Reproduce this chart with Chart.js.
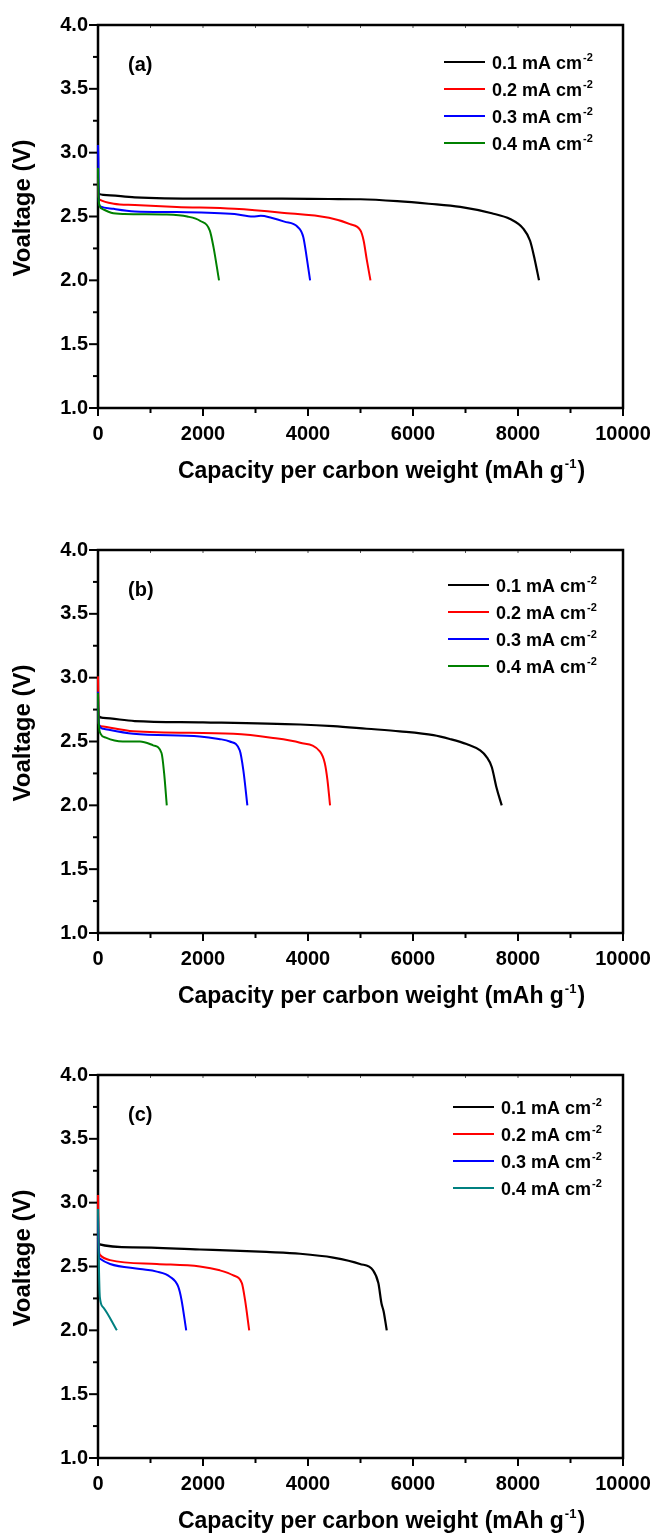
<!DOCTYPE html>
<html>
<head>
<meta charset="utf-8">
<script src="https://cdn.jsdelivr.net/npm/chart.js@4.4.0/dist/chart.umd.min.js"></script>
<style>
  html, body { margin: 0; padding: 0; background: #fff; }
  .panel { position: absolute; left: 0; width: 656px; height: 486px; }
</style>
</head>
<body>
<div class="panel" style="top:0"><canvas id="chartA"></canvas></div>
<div class="panel" style="top:525px"><canvas id="chartB"></canvas></div>
<div class="panel" style="top:1050px"><canvas id="chartC"></canvas></div>
<script>
// axis ranges / ticks
const xMin = 0, xMax = 10000, xStep = 2000, xMinor = 1000;
const yMin = 1, yMax = 4, yStep = 0.5, yMinor = 0.25;

const yTitle = 'Voaltage (V)';
const xTitle = 'Capacity per carbon weight (mAh g';
const xTitleSup = '-1';
const currentLabels = ['0.1 mA cm', '0.2 mA cm', '0.3 mA cm', '0.4 mA cm'];
const currentSup = '-2';
const panelTags = ['(a)', '(b)', '(c)'];

// [capacity mAh/g, voltage V]
// panel (a)
const a01 = [[0,2.74],[10,2.68],[100,2.67],[700,2.65],[2000,2.64],[3500,2.64],[4400,2.637],[5000,2.635],[5700,2.62],[6300,2.60],[6900,2.575],[7500,2.525],[7850,2.48],[8100,2.405],[8230,2.31],[8320,2.16],[8400,2.0]];
const a02 = [[0,2.8],[10,2.66],[40,2.63],[300,2.60],[700,2.59],[1500,2.575],[2600,2.56],[3500,2.53],[4400,2.49],[4800,2.44],[5000,2.39],[5060,2.31],[5120,2.16],[5190,2.0]];
const a03 = [[0,3.06],[8,2.9],[15,2.62],[40,2.58],[300,2.56],[700,2.54],[1500,2.535],[2600,2.52],[2950,2.50],[3100,2.505],[3300,2.49],[3550,2.46],[3800,2.42],[3910,2.34],[3975,2.18],[4040,2.0]];
const a04 = [[0,2.88],[8,2.7],[20,2.6],[80,2.56],[250,2.53],[500,2.52],[1300,2.515],[1700,2.50],[1950,2.465],[2130,2.39],[2200,2.26],[2305,2.0]];
// panel (b)
const b01 = [[0,2.76],[10,2.70],[100,2.685],[700,2.66],[2000,2.65],[3850,2.633],[4480,2.62],[5120,2.60],[5750,2.58],[6390,2.55],[6700,2.52],[7020,2.48],[7280,2.43],[7400,2.38],[7500,2.30],[7590,2.14],[7690,2.0]];
const b02 = [[0,3.01],[8,2.8],[15,2.64],[50,2.62],[670,2.58],[2580,2.56],[3300,2.53],[3850,2.49],[4230,2.42],[4320,2.33],[4370,2.2],[4420,2.0]];
const b03 = [[0,2.89],[8,2.7],[20,2.63],[100,2.6],[670,2.56],[1940,2.54],[2300,2.52],[2510,2.50],[2700,2.43],[2770,2.27],[2845,2.0]];
const b04 = [[0,2.88],[8,2.7],[20,2.61],[50,2.56],[150,2.53],[470,2.50],[800,2.50],[1050,2.47],[1210,2.41],[1260,2.25],[1310,2.0]];
// panel (c)
const c01 = [[0,2.72],[10,2.675],[670,2.65],[1940,2.633],[2580,2.625],[3210,2.614],[3850,2.60],[4480,2.57],[4990,2.52],[5240,2.47],[5340,2.37],[5400,2.21],[5440,2.15],[5500,2.0]];
const c02 = [[0,3.06],[8,2.8],[20,2.62],[40,2.59],[230,2.55],[1120,2.52],[1940,2.50],[2320,2.47],[2580,2.43],[2740,2.37],[2800,2.24],[2880,2.0]];
const c03 = [[0,2.9],[8,2.7],[20,2.58],[40,2.56],[230,2.52],[800,2.48],[1120,2.46],[1370,2.42],[1530,2.34],[1590,2.24],[1680,2.0]];
const c04 = [[0,2.95],[10,2.7],[20,2.45],[35,2.26],[100,2.18],[360,2.0]];

const colorsAB = ['#000000', '#ff0000', '#0000ff', '#008000'];
const colorsC = ['#000000', '#ff0000', '#0000ff', '#008080'];

const FONT = "'Liberation Sans', Arial, sans-serif";
Chart.defaults.font.family = FONT;
Chart.defaults.color = '#000';

function seg(ctx, x1, y1, x2, y2) { ctx.beginPath(); ctx.moveTo(x1, y1); ctx.lineTo(x2, y2); ctx.stroke(); }

// text with a raised superscript; returns total width
function supText(ctx, x, y, main, sup, tail, size, supSize, rise, draw) {
  ctx.font = `bold ${size}px ${FONT}`;
  let w = ctx.measureText(main).width;
  if (draw) ctx.fillText(main, x, y);
  ctx.font = `bold ${supSize}px ${FONT}`;
  if (draw) ctx.fillText(sup, x + w + 1, y - rise);
  w += 1 + ctx.measureText(sup).width;
  if (tail) {
    ctx.font = `bold ${size}px ${FONT}`;
    if (draw) ctx.fillText(tail, x + w + 1, y);
    w += 1 + ctx.measureText(tail).width;
  }
  return w;
}

const decor = {
  id: 'decor',
  beforeDatasetsDraw(chart, args, opts) {
    const { ctx, chartArea: a, scales: { x, y } } = chart;
    ctx.save();
    ctx.strokeStyle = '#000';
    ctx.lineWidth = 2;
    for (let v = xMin; v <= xMax; v += xMinor) {
      const px = x.getPixelForValue(v);
      seg(ctx, px, a.bottom, px, a.bottom + (v % xStep === 0 ? 8 : 5));
    }
    for (let v = yMin; v <= yMax + 1e-9; v += yMinor) {
      const py = y.getPixelForValue(v);
      const major = Math.abs(v / yStep - Math.round(v / yStep)) < 1e-6;
      seg(ctx, a.left, py, a.left - (major ? 9 : 5), py);
    }
    ctx.lineWidth = 1;
    ctx.strokeStyle = '#555';
    for (let v = xMinor; v < xMax; v += xMinor) {
      const px = x.getPixelForValue(v);
      seg(ctx, px, a.top, px, a.top + 3);
    }
    ctx.strokeStyle = '#000';
    ctx.lineWidth = 2.5;
    ctx.strokeRect(a.left, a.top, a.right - a.left, a.bottom - a.top);
    ctx.restore();
  },
  afterDraw(chart, args, opts) {
    const { ctx, chartArea: a } = chart;
    ctx.save();
    ctx.fillStyle = '#000';
    ctx.textBaseline = 'alphabetic';
    ctx.textAlign = 'left';

    // x title with superscript
    const w = supText(ctx, 0, 0, xTitle, xTitleSup, ')', 23, 13, 10, false);
    supText(ctx, (a.left + a.right) / 2 + 21 - w / 2, a.bottom + 70, xTitle, xTitleSup, ')', 23, 13, 10, true);

    // y title
    ctx.save();
    ctx.translate(23, a.top + 183);
    ctx.rotate(-Math.PI / 2);
    ctx.textAlign = 'center';
    ctx.textBaseline = 'middle';
    ctx.font = `bold 24px ${FONT}`;
    ctx.fillText(yTitle, 0, 0);
    ctx.restore();

    // panel tag
    ctx.font = `bold 20px ${FONT}`;
    ctx.textBaseline = 'middle';
    ctx.fillText(opts.tag, a.left + 30, a.top + 40);

    // legend inside the plot
    ctx.textBaseline = 'alphabetic';
    chart.data.datasets.forEach((ds, i) => {
      const ly = a.top + opts.legendTop + i * 27;
      ctx.strokeStyle = ds.borderColor;
      ctx.lineWidth = 2;
      seg(ctx, opts.legendX, ly, opts.legendX + 41, ly);
      ctx.fillStyle = '#000';
      supText(ctx, opts.legendX + 48, ly + 6.5, ds.label, currentSup, '', 18, 11, 8, true);
    });
    ctx.restore();
  }
};

function makeChart(id, series, colors, tag, legendX, legendTop) {
  const datasets = series.map((pts, i) => ({
    label: currentLabels[i],
    data: pts.map(p => ({ x: p[0], y: p[1] })),
    borderColor: colors[i],
    backgroundColor: colors[i],
    borderWidth: i === 0 ? 2.2 : 2,
    pointRadius: 0,
    showLine: true,
    cubicInterpolationMode: 'monotone',
    clip: 4,
    order: series.length - 1 - i
  }));
  return new Chart(document.getElementById(id), {
    type: 'scatter',
    data: { datasets },
    options: {
      responsive: true,
      maintainAspectRatio: false,
      animation: false,
      layout: { padding: { top: 25, right: 33, left: 0, bottom: 0 } },
      plugins: {
        legend: { display: false },
        tooltip: { enabled: false },
        decor: { tag, legendX, legendTop }
      },
      scales: {
        x: {
          type: 'linear', min: xMin, max: xMax,
          afterFit: s => { s.height = 78; s.paddingLeft = 0; s.paddingRight = 0; },
          grid: { display: false, drawTicks: false },
          border: { display: false },
          ticks: { stepSize: xStep, font: { size: 20, weight: 'bold' }, color: '#000', padding: 14, maxRotation: 0, autoSkip: false, callback: v => String(v) }
        },
        y: {
          type: 'linear', min: yMin, max: yMax,
          afterFit: s => { s.width = 98; s.paddingTop = 0; s.paddingBottom = 0; },
          grid: { display: false, drawTicks: false },
          border: { display: false },
          ticks: { stepSize: yStep, font: { size: 20, weight: 'bold' }, color: '#000', padding: 10, callback: v => v.toFixed(1) }
        }
      }
    },
    plugins: [decor]
  });
}

makeChart('chartA', [a01, a02, a03, a04], colorsAB, panelTags[0], 444, 37);
makeChart('chartB', [b01, b02, b03, b04], colorsAB, panelTags[1], 448, 35);
makeChart('chartC', [c01, c02, c03, c04], colorsC, panelTags[2], 453, 32);
</script>
</body>
</html>
